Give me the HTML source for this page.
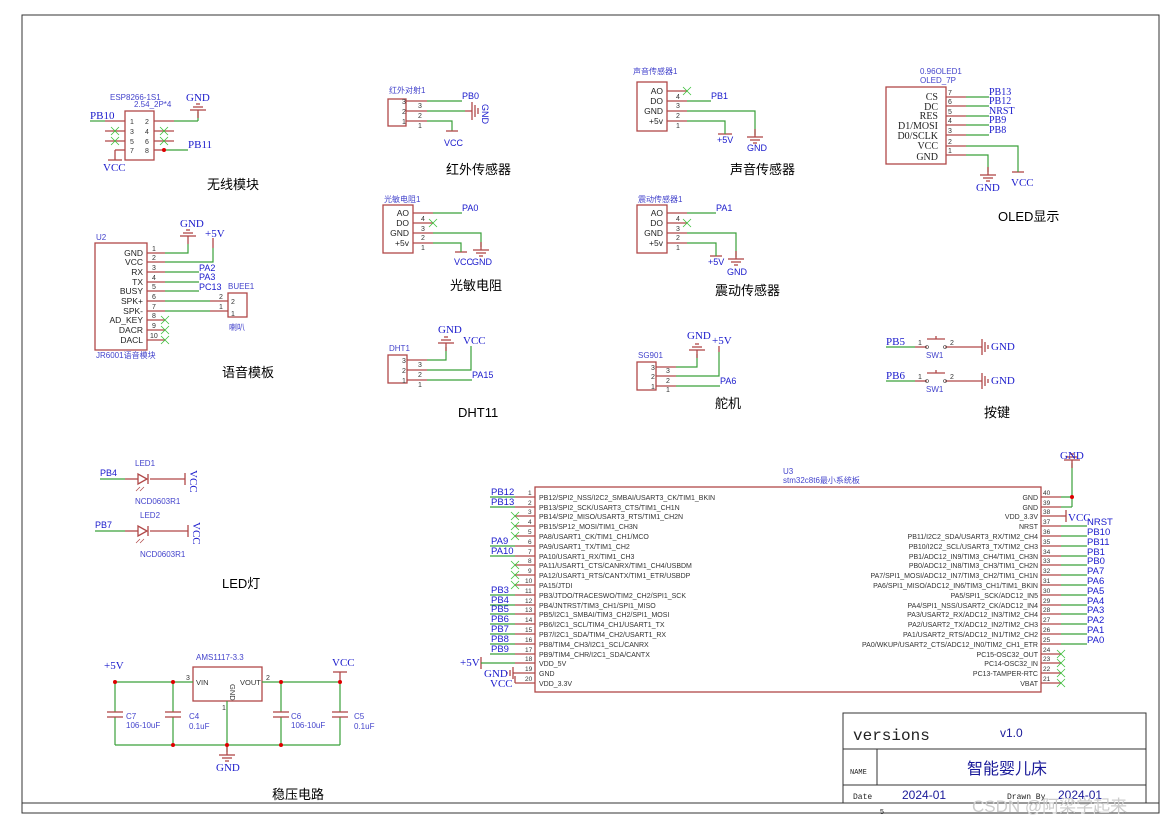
<!DOCTYPE html>
<html><head><meta charset="utf-8"><style>
html,body{margin:0;padding:0;background:#fff}
svg{display:block}
text{font-family:"Liberation Sans","Noto Sans CJK SC",sans-serif}
.p{font-size:7px;fill:#333}
.n{font-size:9px;fill:#1a1acc}
.s{font-family:"Liberation Serif","Noto Serif CJK SC",serif;font-size:11px;fill:#1a1acc}
.o{font-family:"Liberation Serif",serif;font-size:10px;fill:#222}
.c{font-size:8px;fill:#4444cc}
.t{font-size:13px;fill:#000;font-family:"Liberation Sans","Noto Sans CJK SC",sans-serif}
.r{stroke:#b04848;stroke-width:1.3;fill:none}
.g{stroke:#3aa03a;stroke-width:1.2;fill:none}
.x{stroke:#3ac03a;stroke-width:0.8}
</style></head><body>
<svg width="1170" height="825" viewBox="0 0 1170 825" xmlns="http://www.w3.org/2000/svg">
<defs>
<g id="gnd"><line x1="0" y1="-8" x2="0" y2="0" class="r"/><line x1="-8" y1="0" x2="8" y2="0" class="r"/><line x1="-5" y1="3" x2="5" y2="3" class="r"/><line x1="-2" y1="6" x2="2" y2="6" class="r"/></g>
<g id="gndu"><line x1="0" y1="8" x2="0" y2="0" class="r"/><line x1="-8" y1="0" x2="8" y2="0" class="r"/><line x1="-5" y1="-3" x2="5" y2="-3" class="r"/><line x1="-2" y1="-6" x2="2" y2="-6" class="r"/></g>
<g id="X"><line x1="-4" y1="-4" x2="4" y2="4" class="x"/><line x1="-4" y1="4" x2="4" y2="-4" class="x"/></g>
</defs>
<rect x="22" y="15" width="1137" height="798" fill="none" stroke="#333" stroke-width="1"/>

<!-- ESP8266 -->
<text class="c" x="110" y="100">ESP8266-1S1</text><text class="c" x="134" y="107">2.54_2P*4</text>
<rect x="125" y="111" width="29" height="49" class="r"/>
<g class="r"><line x1="105" y1="121" x2="125" y2="121"/><line x1="105" y1="131" x2="125" y2="131"/><line x1="105" y1="141" x2="125" y2="141"/><line x1="115" y1="150" x2="125" y2="150"/><line x1="154" y1="121" x2="174" y2="121"/><line x1="154" y1="131" x2="174" y2="131"/><line x1="154" y1="141" x2="174" y2="141"/><line x1="154" y1="150" x2="164" y2="150"/><line x1="115" y1="150" x2="115" y2="160"/><line x1="108" y1="160" x2="122" y2="160"/></g>
<g class="p"><text x="130" y="124">1</text><text x="130" y="134">3</text><text x="130" y="144">5</text><text x="130" y="153">7</text><text x="145" y="124">2</text><text x="145" y="134">4</text><text x="145" y="144">6</text><text x="145" y="153">8</text></g>
<g class="g"><line x1="90" y1="121" x2="105" y2="121"/><line x1="174" y1="121" x2="198" y2="121"/><line x1="198" y1="121" x2="198" y2="112"/><line x1="164" y1="150" x2="188" y2="150"/></g>
<use href="#gndu" x="198" y="110"/>
<circle cx="164" cy="150" r="2" fill="#d00"/>
<use href="#X" x="115" y="131"/><use href="#X" x="115" y="141"/><use href="#X" x="164" y="131"/><use href="#X" x="164" y="141"/>
<text class="s" x="90" y="119">PB10</text><text class="s" x="186" y="101" font-size="12">GND</text><text class="s" x="188" y="148">PB11</text><text class="s" x="103" y="171" font-size="12">VCC</text>
<text class="t" x="207" y="189">无线模块</text>

<!-- U2 -->
<text class="c" x="96" y="240">U2</text>
<rect x="95" y="243" width="52" height="107" class="r"/>
<g text-anchor="end" style="font-size:8.5px;fill:#222">
<text x="143" y="256">GND</text><text x="143" y="265">VCC</text><text x="143" y="275">RX</text><text x="143" y="285">TX</text><text x="143" y="294">BUSY</text><text x="143" y="304">SPK+</text><text x="143" y="314">SPK-</text><text x="143" y="323">AD_KEY</text><text x="143" y="333">DACR</text><text x="143" y="343">DACL</text></g>
<g class="r"><line x1="147" y1="253" x2="165" y2="253"/><line x1="147" y1="262" x2="165" y2="262"/><line x1="147" y1="272" x2="165" y2="272"/><line x1="147" y1="282" x2="165" y2="282"/><line x1="147" y1="291" x2="165" y2="291"/><line x1="147" y1="301" x2="165" y2="301"/><line x1="147" y1="311" x2="165" y2="311"/><line x1="147" y1="320" x2="165" y2="320"/><line x1="147" y1="330" x2="165" y2="330"/><line x1="147" y1="340" x2="165" y2="340"/><line x1="210" y1="301" x2="228" y2="301"/><line x1="210" y1="311" x2="228" y2="311"/><line x1="213" y1="238" x2="213" y2="248"/></g>
<g class="p"><text x="152" y="251">1</text><text x="152" y="260">2</text><text x="152" y="270">3</text><text x="152" y="280">4</text><text x="152" y="289">5</text><text x="152" y="299">6</text><text x="152" y="309">7</text><text x="152" y="318">8</text><text x="152" y="328">9</text><text x="150" y="338">10</text><text x="219" y="299">2</text><text x="219" y="309">1</text><text x="231" y="304">2</text><text x="231" y="316">1</text></g>
<g class="g"><polyline points="165,253 188,253 188,244"/><polyline points="165,262 213,262 213,248"/><line x1="165" y1="272" x2="199" y2="272"/><line x1="165" y1="282" x2="199" y2="282"/><line x1="165" y1="291" x2="199" y2="291"/><line x1="165" y1="301" x2="210" y2="301"/><line x1="165" y1="311" x2="210" y2="311"/></g>
<use href="#gndu" x="188" y="236"/>
<use href="#X" x="165" y="320"/><use href="#X" x="165" y="330"/><use href="#X" x="165" y="340"/>
<rect x="228" y="293" width="19" height="24" class="r"/>
<text class="c" x="228" y="289" font-size="9">BUEE1</text><text class="c" x="229" y="330">喇叭</text>
<text class="n" x="199" y="271">PA2</text><text class="n" x="199" y="280">PA3</text><text class="n" x="199" y="290">PC13</text>
<text class="s" x="180" y="227">GND</text><text class="s" x="205" y="237">+5V</text>
<text class="c" x="96" y="358">JR6001语音模块</text>
<text class="t" x="222" y="377">语音模板</text>

<!-- Infrared -->
<text class="c" x="389" y="93">红外对射1</text>
<rect x="388" y="99" width="18" height="27" class="r"/>
<g class="r"><line x1="406" y1="101" x2="427" y2="101"/><line x1="406" y1="111" x2="427" y2="111"/><line x1="406" y1="121" x2="427" y2="121"/></g>
<g class="p"><text x="402" y="104">3</text><text x="402" y="114">2</text><text x="402" y="124">1</text><text x="418" y="108">3</text><text x="418" y="118">2</text><text x="418" y="128">1</text></g>
<g class="g"><line x1="427" y1="101" x2="462" y2="101"/><line x1="427" y1="111" x2="465" y2="111"/><polyline points="427,121 452,121 452,131"/></g>
<g class="r"><line x1="465" y1="111" x2="472" y2="111"/><line x1="472" y1="102" x2="472" y2="120"/><line x1="475" y1="105" x2="475" y2="117"/><line x1="478" y1="108" x2="478" y2="114"/><line x1="446" y1="131" x2="458" y2="131"/></g>
<text class="n" x="462" y="99">PB0</text><text class="n" x="0" y="0" transform="translate(482,104) rotate(90)">GND</text><text class="n" x="444" y="146">VCC</text>
<text class="t" x="446" y="174">红外传感器</text>

<!-- Sound -->
<text class="c" x="633" y="74">声音传感器1</text>
<rect x="637" y="82" width="30" height="49" class="r"/>
<g style="font-size:8.5px;fill:#222" text-anchor="end"><text x="663" y="94">AO</text><text x="663" y="104">DO</text><text x="663" y="114">GND</text><text x="663" y="124">+5v</text></g>
<g class="r"><line x1="667" y1="91" x2="687" y2="91"/><line x1="667" y1="101" x2="687" y2="101"/><line x1="667" y1="111" x2="687" y2="111"/><line x1="667" y1="121" x2="687" y2="121"/><line x1="718" y1="134" x2="732" y2="134"/></g>
<g class="p"><text x="676" y="99">4</text><text x="676" y="108">3</text><text x="676" y="118">2</text><text x="676" y="128">1</text></g>
<use href="#X" x="687" y="91"/>
<g class="g"><line x1="687" y1="101" x2="711" y2="101"/><polyline points="687,111 755,111 755,135"/><polyline points="687,121 725,121 725,134"/></g>
<use href="#gnd" x="755" y="137"/>
<text class="n" x="711" y="99">PB1</text><text class="n" x="717" y="143">+5V</text><text class="n" x="747" y="151">GND</text>
<text class="t" x="730" y="174">声音传感器</text>

<!-- Photoresistor -->
<text class="c" x="384" y="202">光敏电阻1</text>
<rect x="383" y="205" width="30" height="48" class="r"/>
<g style="font-size:8.5px;fill:#222" text-anchor="end"><text x="409" y="216">AO</text><text x="409" y="226">DO</text><text x="409" y="236">GND</text><text x="409" y="246">+5v</text></g>
<g class="r"><line x1="413" y1="213" x2="433" y2="213"/><line x1="413" y1="223" x2="433" y2="223"/><line x1="413" y1="233" x2="433" y2="233"/><line x1="413" y1="243" x2="433" y2="243"/><line x1="455" y1="252" x2="467" y2="252"/></g>
<g class="p"><text x="421" y="221">4</text><text x="421" y="231">3</text><text x="421" y="240">2</text><text x="421" y="250">1</text></g>
<use href="#X" x="433" y="223"/>
<g class="g"><line x1="433" y1="213" x2="462" y2="213"/><polyline points="433,233 481,233 481,247"/><polyline points="433,243 461,243 461,252"/></g>
<use href="#gnd" x="481" y="250"/>
<text class="n" x="462" y="211">PA0</text><text class="n" x="454" y="265">VCC</text><text class="n" x="472" y="265">GND</text>
<text class="t" x="450" y="290">光敏电阻</text>

<!-- Vibration -->
<text class="c" x="638" y="202">震动传感器1</text>
<rect x="637" y="205" width="30" height="48" class="r"/>
<g style="font-size:8.5px;fill:#222" text-anchor="end"><text x="663" y="216">AO</text><text x="663" y="226">DO</text><text x="663" y="236">GND</text><text x="663" y="246">+5v</text></g>
<g class="r"><line x1="667" y1="213" x2="687" y2="213"/><line x1="667" y1="223" x2="687" y2="223"/><line x1="667" y1="233" x2="687" y2="233"/><line x1="667" y1="243" x2="687" y2="243"/><line x1="710" y1="256" x2="722" y2="256"/></g>
<g class="p"><text x="676" y="221">4</text><text x="676" y="231">3</text><text x="676" y="240">2</text><text x="676" y="250">1</text></g>
<use href="#X" x="687" y="223"/>
<g class="g"><line x1="687" y1="213" x2="716" y2="213"/><polyline points="687,233 736,233 736,257"/><polyline points="687,243 716,243 716,256"/></g>
<use href="#gnd" x="736" y="259"/>
<text class="n" x="716" y="211">PA1</text><text class="n" x="708" y="265">+5V</text><text class="n" x="727" y="275">GND</text>
<text class="t" x="715" y="295">震动传感器</text>

<!-- OLED -->
<text class="c" x="920" y="74">0.96OLED1</text><text class="c" x="920" y="83">OLED_7P</text>
<rect x="886" y="87" width="60" height="77" class="r"/>
<g text-anchor="end"><text class="o" x="938" y="100">CS</text><text class="o" x="938" y="110">DC</text><text class="o" x="938" y="119">RES</text><text class="o" x="938" y="129">D1/MOSI</text><text class="o" x="938" y="139">D0/SCLK</text><text class="o" x="938" y="149">VCC</text><text class="o" x="938" y="160">GND</text></g>
<g class="r"><line x1="946" y1="97" x2="966" y2="97"/><line x1="946" y1="106" x2="966" y2="106"/><line x1="946" y1="116" x2="966" y2="116"/><line x1="946" y1="125" x2="966" y2="125"/><line x1="946" y1="135" x2="966" y2="135"/><line x1="946" y1="146" x2="966" y2="146"/><line x1="946" y1="155" x2="966" y2="155"/><line x1="1012" y1="172" x2="1024" y2="172"/></g>
<g class="p"><text x="948" y="95">7</text><text x="948" y="104">6</text><text x="948" y="114">5</text><text x="948" y="123">4</text><text x="948" y="133">3</text><text x="948" y="144">2</text><text x="948" y="153">1</text></g>
<g class="g"><line x1="966" y1="97" x2="989" y2="97"/><line x1="966" y1="106" x2="989" y2="106"/><line x1="966" y1="116" x2="989" y2="116"/><line x1="966" y1="125" x2="989" y2="125"/><line x1="966" y1="135" x2="989" y2="135"/><polyline points="966,146 1018,146 1018,172"/><polyline points="966,155 988,155 988,172"/></g>
<use href="#gnd" x="988" y="175"/>
<g><text class="s" x="989" y="95" style="font-size:10px">PB13</text><text class="s" x="989" y="104" style="font-size:10px">PB12</text><text class="s" x="989" y="114" style="font-size:10px">NRST</text><text class="s" x="989" y="123" style="font-size:10px">PB9</text><text class="s" x="989" y="133" style="font-size:10px">PB8</text></g>
<text class="s" x="976" y="191">GND</text><text class="s" x="1011" y="186">VCC</text>
<text class="t" x="998" y="221">OLED显示</text>

<!-- DHT11 -->
<text class="c" x="389" y="351">DHT1</text>
<rect x="388" y="355" width="19" height="28" class="r"/>
<g class="r"><line x1="407" y1="360" x2="427" y2="360"/><line x1="407" y1="370" x2="427" y2="370"/><line x1="407" y1="380" x2="427" y2="380"/></g>
<g class="p"><text x="402" y="363">3</text><text x="402" y="373">2</text><text x="402" y="383">1</text><text x="418" y="367">3</text><text x="418" y="377">2</text><text x="418" y="387">1</text></g>
<g class="g"><polyline points="427,360 446,360 446,347"/><polyline points="427,370 471,370 471,346"/><line x1="427" y1="380" x2="472" y2="380"/></g>
<use href="#gndu" x="446" y="343"/>
<text class="s" x="438" y="333">GND</text><text class="s" x="463" y="344">VCC</text><text class="n" x="472" y="378">PA15</text>
<text class="t" x="458" y="417">DHT11</text>

<!-- SG90 -->
<text class="c" x="638" y="358">SG901</text>
<rect x="637" y="362" width="19" height="28" class="r"/>
<g class="r"><line x1="656" y1="367" x2="676" y2="367"/><line x1="656" y1="376" x2="676" y2="376"/><line x1="656" y1="386" x2="676" y2="386"/><line x1="719" y1="346" x2="719" y2="352"/></g>
<g class="p"><text x="651" y="370">3</text><text x="651" y="379">2</text><text x="651" y="389">1</text><text x="666" y="373">3</text><text x="666" y="383">2</text><text x="666" y="392">1</text></g>
<g class="g"><polyline points="676,367 697,367 697,354"/><polyline points="676,376 719,376 719,352"/><line x1="676" y1="386" x2="720" y2="386"/></g>
<use href="#gndu" x="697" y="350"/>
<text class="s" x="687" y="339">GND</text><text class="s" x="712" y="344">+5V</text><text class="n" x="720" y="384">PA6</text>
<text class="t" x="715" y="408">舵机</text>

<!-- Buttons -->
<g class="g"><line x1="886" y1="347" x2="915" y2="347"/><line x1="886" y1="381" x2="915" y2="381"/></g>
<g class="r"><line x1="915" y1="347" x2="927" y2="347"/><line x1="945" y1="347" x2="982" y2="347"/><line x1="927" y1="339" x2="945" y2="339"/><line x1="936" y1="336" x2="936" y2="339"/><line x1="915" y1="381" x2="927" y2="381"/><line x1="945" y1="381" x2="982" y2="381"/><line x1="927" y1="373" x2="945" y2="373"/><line x1="936" y1="370" x2="936" y2="373"/>
<line x1="982" y1="339" x2="982" y2="355"/><line x1="985" y1="342" x2="985" y2="352"/><line x1="988" y1="345" x2="988" y2="349"/><line x1="982" y1="373" x2="982" y2="389"/><line x1="985" y1="376" x2="985" y2="386"/><line x1="988" y1="379" x2="988" y2="383"/></g>
<circle cx="927" cy="347" r="1.5" fill="none" stroke="#333" stroke-width="0.6"/><circle cx="945" cy="347" r="1.5" fill="none" stroke="#333" stroke-width="0.6"/><circle cx="927" cy="381" r="1.5" fill="none" stroke="#333" stroke-width="0.6"/><circle cx="945" cy="381" r="1.5" fill="none" stroke="#333" stroke-width="0.6"/>
<g class="p"><text x="918" y="345">1</text><text x="950" y="345">2</text><text x="918" y="379">1</text><text x="950" y="379">2</text></g>
<text class="s" x="886" y="345">PB5</text><text class="s" x="886" y="379">PB6</text>
<text class="c" x="926" y="358">SW1</text><text class="c" x="926" y="392">SW1</text>
<text class="s" x="991" y="350">GND</text><text class="s" x="991" y="384">GND</text>
<text class="t" x="984" y="417">按键</text>

<!-- LEDs -->
<g class="g"><line x1="100" y1="479" x2="125" y2="479"/><line x1="95" y1="531" x2="125" y2="531"/></g>
<g class="r"><line x1="125" y1="479" x2="138" y2="479"/><line x1="150" y1="479" x2="185" y2="479"/><polygon points="138,474 138,484 147,479"/><line x1="148" y1="474" x2="148" y2="484"/><line x1="185" y1="473" x2="185" y2="485"/>
<line x1="125" y1="531" x2="138" y2="531"/><line x1="150" y1="531" x2="188" y2="531"/><polygon points="138,526 138,536 147,531"/><line x1="148" y1="526" x2="148" y2="536"/><line x1="188" y1="525" x2="188" y2="537"/></g>
<g stroke="#b04848" stroke-width="0.7"><line x1="140" y1="487" x2="136" y2="491"/><line x1="144" y1="487" x2="140" y2="491"/><line x1="140" y1="539" x2="136" y2="543"/><line x1="144" y1="539" x2="140" y2="543"/></g>
<text class="n" x="100" y="476">PB4</text><text class="n" x="95" y="528">PB7</text>
<text class="c" x="135" y="466">LED1</text><text class="c" x="135" y="504">NCD0603R1</text><text class="c" x="140" y="518">LED2</text><text class="c" x="140" y="557">NCD0603R1</text>
<text class="s" x="0" y="0" transform="translate(190,470) rotate(90)">VCC</text><text class="s" x="0" y="0" transform="translate(193,522) rotate(90)">VCC</text>
<text class="t" x="222" y="588">LED灯</text>

<!-- Power -->
<text class="c" x="196" y="660">AMS1117-3.3</text>
<rect x="193" y="667" width="69" height="34" class="r"/>
<g style="font-size:7.5px;fill:#333"><text x="196" y="685">VIN</text><text x="240" y="685">VOUT</text><text x="0" y="0" transform="translate(230,684) rotate(90)">GND</text></g>
<g class="p"><text x="186" y="680">3</text><text x="266" y="680">2</text><text x="222" y="710">1</text></g>
<g class="g"><line x1="115" y1="682" x2="193" y2="682"/><line x1="262" y1="682" x2="340" y2="682"/><line x1="115" y1="745" x2="340" y2="745"/><line x1="227" y1="701" x2="227" y2="752"/>
<line x1="115" y1="682" x2="115" y2="712"/><line x1="173" y1="682" x2="173" y2="712"/><line x1="281" y1="682" x2="281" y2="712"/><line x1="340" y1="682" x2="340" y2="712"/>
<line x1="115" y1="717" x2="115" y2="745"/><line x1="173" y1="717" x2="173" y2="745"/><line x1="281" y1="717" x2="281" y2="745"/><line x1="340" y1="717" x2="340" y2="745"/></g>
<g class="r"><line x1="107" y1="712" x2="123" y2="712"/><line x1="107" y1="717" x2="123" y2="717"/><line x1="165" y1="712" x2="181" y2="712"/><line x1="165" y1="717" x2="181" y2="717"/><line x1="273" y1="712" x2="289" y2="712"/><line x1="273" y1="717" x2="289" y2="717"/><line x1="332" y1="712" x2="348" y2="712"/><line x1="332" y1="717" x2="348" y2="717"/><line x1="333" y1="672" x2="347" y2="672"/><line x1="340" y1="672" x2="340" y2="682"/></g>
<use href="#gnd" x="227" y="755"/>
<g fill="#d00"><circle cx="115" cy="682" r="2"/><circle cx="173" cy="682" r="2"/><circle cx="281" cy="682" r="2"/><circle cx="340" cy="682" r="2"/><circle cx="173" cy="745" r="2"/><circle cx="227" cy="745" r="2"/><circle cx="281" cy="745" r="2"/></g>
<g><text class="c" x="126" y="719">C7</text><text class="c" x="126" y="728">106-10uF</text><text class="c" x="189" y="719">C4</text><text class="c" x="189" y="729">0.1uF</text><text class="c" x="291" y="719">C6</text><text class="c" x="291" y="728">106-10uF</text><text class="c" x="354" y="719">C5</text><text class="c" x="354" y="729">0.1uF</text></g>
<text class="s" x="104" y="669">+5V</text><text class="s" x="332" y="666">VCC</text><text class="s" x="216" y="771">GND</text>
<text class="t" x="272" y="799">稳压电路</text>

<!-- U3 -->
<text class="c" x="783" y="474">U3</text><text class="c" x="783" y="483">stm32c8t6最小系统板</text>
<rect x="535" y="487" width="506" height="205" class="r"/>
<g class="r">
<line x1="515" y1="497" x2="535" y2="497"/><line x1="515" y1="507" x2="535" y2="507"/><line x1="515" y1="516" x2="535" y2="516"/><line x1="515" y1="526" x2="535" y2="526"/><line x1="515" y1="536" x2="535" y2="536"/><line x1="515" y1="546" x2="535" y2="546"/><line x1="515" y1="556" x2="535" y2="556"/><line x1="515" y1="565" x2="535" y2="565"/><line x1="515" y1="575" x2="535" y2="575"/><line x1="515" y1="585" x2="535" y2="585"/><line x1="515" y1="595" x2="535" y2="595"/><line x1="515" y1="605" x2="535" y2="605"/><line x1="515" y1="614" x2="535" y2="614"/><line x1="515" y1="624" x2="535" y2="624"/><line x1="515" y1="634" x2="535" y2="634"/><line x1="515" y1="644" x2="535" y2="644"/><line x1="515" y1="654" x2="535" y2="654"/><line x1="515" y1="663" x2="535" y2="663"/><line x1="515" y1="673" x2="535" y2="673"/><line x1="515" y1="683" x2="535" y2="683"/>
<line x1="1041" y1="497" x2="1061" y2="497"/><line x1="1041" y1="507" x2="1061" y2="507"/><line x1="1041" y1="516" x2="1061" y2="516"/><line x1="1041" y1="526" x2="1061" y2="526"/><line x1="1041" y1="536" x2="1061" y2="536"/><line x1="1041" y1="546" x2="1061" y2="546"/><line x1="1041" y1="556" x2="1061" y2="556"/><line x1="1041" y1="565" x2="1061" y2="565"/><line x1="1041" y1="575" x2="1061" y2="575"/><line x1="1041" y1="585" x2="1061" y2="585"/><line x1="1041" y1="595" x2="1061" y2="595"/><line x1="1041" y1="605" x2="1061" y2="605"/><line x1="1041" y1="614" x2="1061" y2="614"/><line x1="1041" y1="624" x2="1061" y2="624"/><line x1="1041" y1="634" x2="1061" y2="634"/><line x1="1041" y1="644" x2="1061" y2="644"/><line x1="1041" y1="654" x2="1061" y2="654"/><line x1="1041" y1="663" x2="1061" y2="663"/><line x1="1041" y1="673" x2="1061" y2="673"/><line x1="1041" y1="683" x2="1061" y2="683"/>
<line x1="481" y1="657" x2="481" y2="669"/><line x1="513" y1="667" x2="513" y2="679"/><line x1="510" y1="670" x2="510" y2="676"/><line x1="507" y1="672" x2="507" y2="674"/><line x1="515" y1="673" x2="513" y2="673"/><line x1="515" y1="683" x2="515" y2="676"/><line x1="1061" y1="516" x2="1066" y2="516"/><line x1="1066" y1="510" x2="1066" y2="522"/>
</g>
<g class="p" style="font-size:6.5px">
<text x="528" y="495">1</text><text x="528" y="505">2</text><text x="528" y="514">3</text><text x="528" y="524">4</text><text x="528" y="534">5</text><text x="528" y="544">6</text><text x="528" y="554">7</text><text x="528" y="563">8</text><text x="528" y="573">9</text><text x="525" y="583">10</text><text x="525" y="593">11</text><text x="525" y="603">12</text><text x="525" y="612">13</text><text x="525" y="622">14</text><text x="525" y="632">15</text><text x="525" y="642">16</text><text x="525" y="652">17</text><text x="525" y="661">18</text><text x="525" y="671">19</text><text x="525" y="681">20</text>
<text x="1043" y="495">40</text><text x="1043" y="505">39</text><text x="1043" y="514">38</text><text x="1043" y="524">37</text><text x="1043" y="534">36</text><text x="1043" y="544">35</text><text x="1043" y="554">34</text><text x="1043" y="563">33</text><text x="1043" y="573">32</text><text x="1043" y="583">31</text><text x="1043" y="593">30</text><text x="1043" y="603">29</text><text x="1043" y="612">28</text><text x="1043" y="622">27</text><text x="1043" y="632">26</text><text x="1043" y="642">25</text><text x="1043" y="652">24</text><text x="1043" y="661">23</text><text x="1043" y="671">22</text><text x="1043" y="681">21</text></g>
<g style="font-size:7px;fill:#333">
<text x="539" y="500">PB12/SPI2_NSS/I2C2_SMBAI/USART3_CK/TIM1_BKIN</text><text x="539" y="510">PB13/SPI2_SCK/USART3_CTS/TIM1_CH1N</text><text x="539" y="519">PB14/SPI2_MISO/USART3_RTS/TIM1_CH2N</text><text x="539" y="529">PB15/SP12_MOSI/TIM1_CH3N</text><text x="539" y="539">PA8/USART1_CK/TIM1_CH1/MCO</text><text x="539" y="549">PA9/USART1_TX/TIM1_CH2</text><text x="539" y="559">PA10/USART1_RX/TIM1_CH3</text><text x="539" y="568">PA11/USART1_CTS/CANRX/TIM1_CH4/USBDM</text><text x="539" y="578">PA12/USART1_RTS/CANTX/TIM1_ETR/USBDP</text><text x="539" y="588">PA15/JTDI</text><text x="539" y="598">PB3/JTDO/TRACESWO/TIM2_CH2/SPI1_SCK</text><text x="539" y="608">PB4/JNTRST/TIM3_CH1/SPI1_MISO</text><text x="539" y="617">PB5/I2C1_SMBAI/TIM3_CH2/SPI1_MOSI</text><text x="539" y="627">PB6/I2C1_SCL/TIM4_CH1/USART1_TX</text><text x="539" y="637">PB7/I2C1_SDA/TIM4_CH2/USART1_RX</text><text x="539" y="647">PB8/TIM4_CH3/I2C1_SCL/CANRX</text><text x="539" y="657">PB9/TIM4_CHR/I2C1_SDA/CANTX</text><text x="539" y="666">VDD_5V</text><text x="539" y="676">GND</text><text x="539" y="686">VDD_3.3V</text>
</g>
<g style="font-size:7px;fill:#333" text-anchor="end">
<text x="1038" y="500">GND</text><text x="1038" y="510">GND</text><text x="1038" y="519">VDD_3.3V</text><text x="1038" y="529">NRST</text><text x="1038" y="539">PB11/I2C2_SDA/USART3_RX/TIM2_CH4</text><text x="1038" y="549">PB10/I2C2_SCL/USART3_TX/TIM2_CH3</text><text x="1038" y="559">PB1/ADC12_IN9/TIM3_CH4/TIM1_CH3N</text><text x="1038" y="568">PB0/ADC12_IN8/TIM3_CH3/TIM1_CH2N</text><text x="1038" y="578">PA7/SPI1_MOSI/ADC12_IN7/TIM3_CH2/TIM1_CH1N</text><text x="1038" y="588">PA6/SPI1_MISO/ADC12_IN6/TIM3_CH1/TIM1_BKIN</text><text x="1038" y="598">PA5/SPI1_SCK/ADC12_IN5</text><text x="1038" y="608">PA4/SPI1_NSS/USART2_CK/ADC12_IN4</text><text x="1038" y="617">PA3/USART2_RX/ADC12_IN3/TIM2_CH4</text><text x="1038" y="627">PA2/USART2_TX/ADC12_IN2/TIM2_CH3</text><text x="1038" y="637">PA1/USART2_RTS/ADC12_IN1/TIM2_CH2</text><text x="1038" y="647">PA0/WKUP/USART2_CTS/ADC12_IN0/TIM2_CH1_ETR</text><text x="1038" y="657">PC15-OSC32_OUT</text><text x="1038" y="666">PC14-OSC32_IN</text><text x="1038" y="676">PC13-TAMPER-RTC</text><text x="1038" y="686">VBAT</text>
</g>
<g class="g">
<line x1="490" y1="497" x2="515" y2="497"/><line x1="490" y1="507" x2="515" y2="507"/><line x1="490" y1="546" x2="515" y2="546"/><line x1="490" y1="556" x2="515" y2="556"/>
<line x1="490" y1="595" x2="515" y2="595"/><line x1="490" y1="605" x2="515" y2="605"/><line x1="490" y1="614" x2="515" y2="614"/><line x1="490" y1="624" x2="515" y2="624"/><line x1="490" y1="634" x2="515" y2="634"/><line x1="490" y1="644" x2="515" y2="644"/><line x1="490" y1="654" x2="515" y2="654"/><line x1="481" y1="663" x2="515" y2="663"/>
<polyline points="1061,497 1072,497 1072,463"/><line x1="1061" y1="507" x2="1072" y2="507"/><line x1="1072" y1="497" x2="1072" y2="507"/>
<line x1="1061" y1="526" x2="1087" y2="526"/><line x1="1061" y1="536" x2="1087" y2="536"/><line x1="1061" y1="546" x2="1087" y2="546"/><line x1="1061" y1="556" x2="1087" y2="556"/><line x1="1061" y1="565" x2="1087" y2="565"/><line x1="1061" y1="575" x2="1087" y2="575"/><line x1="1061" y1="585" x2="1087" y2="585"/><line x1="1061" y1="595" x2="1087" y2="595"/><line x1="1061" y1="605" x2="1087" y2="605"/><line x1="1061" y1="614" x2="1087" y2="614"/><line x1="1061" y1="624" x2="1087" y2="624"/><line x1="1061" y1="634" x2="1087" y2="634"/><line x1="1061" y1="644" x2="1087" y2="644"/></g>
<use href="#gndu" x="1072" y="460"/>
<circle cx="1072" cy="497" r="2" fill="#d00"/>
<use href="#X" x="515" y="516"/><use href="#X" x="515" y="526"/><use href="#X" x="515" y="536"/><use href="#X" x="515" y="565"/><use href="#X" x="515" y="575"/><use href="#X" x="515" y="585"/>
<use href="#X" x="1061" y="654"/><use href="#X" x="1061" y="663"/><use href="#X" x="1061" y="673"/><use href="#X" x="1061" y="683"/>
<g class="n" style="font-size:9.5px"><text x="491" y="495">PB12</text><text x="491" y="505">PB13</text><text x="491" y="544">PA9</text><text x="491" y="554">PA10</text><text x="491" y="593">PB3</text><text x="491" y="603">PB4</text><text x="491" y="612">PB5</text><text x="491" y="622">PB6</text><text x="491" y="632">PB7</text><text x="491" y="642">PB8</text><text x="491" y="652">PB9</text>
<text x="1087" y="525">NRST</text><text x="1087" y="535">PB10</text><text x="1087" y="545">PB11</text><text x="1087" y="555">PB1</text><text x="1087" y="564">PB0</text><text x="1087" y="574">PA7</text><text x="1087" y="584">PA6</text><text x="1087" y="594">PA5</text><text x="1087" y="604">PA4</text><text x="1087" y="613">PA3</text><text x="1087" y="623">PA2</text><text x="1087" y="633">PA1</text><text x="1087" y="643">PA0</text></g>
<text class="s" x="1060" y="459">GND</text><text class="s" x="1068" y="521">VCC</text>
<text class="s" x="460" y="666">+5V</text><text class="s" x="484" y="677">GND</text><text class="s" x="490" y="687">VCC</text>

<!-- Title block -->
<g fill="none" stroke="#333" stroke-width="1"><rect x="843" y="713" width="303" height="90"/><line x1="843" y1="749" x2="1146" y2="749"/><line x1="843" y1="785" x2="1146" y2="785"/><line x1="877" y1="749" x2="877" y2="785"/><line x1="22" y1="803" x2="1159" y2="803"/></g>
<text x="853" y="740" style="font-family:'Liberation Mono',monospace;font-size:16px;fill:#222">versions</text>
<text x="1000" y="737" style="font-size:12px;fill:#1a1a99">v1.0</text>
<text x="850" y="774" style="font-family:'Liberation Mono',monospace;font-size:7px;fill:#222">NAME</text>
<text x="967" y="774" style="font-size:16px;fill:#1a1a99">智能婴儿床</text>
<text x="853" y="799" style="font-family:'Liberation Mono',monospace;font-size:8px;fill:#222">Date</text>
<text x="902" y="799" style="font-size:12px;fill:#1a1a99">2024-01</text>
<text x="1007" y="799" style="font-family:'Liberation Mono',monospace;font-size:8px;fill:#222">Drawn By</text>
<text x="1058" y="799" style="font-size:12px;fill:#1a1a99">2024-01</text>
<text x="880" y="814" style="font-size:7px;fill:#222">5</text>
<text x="972" y="812" style="font-size:17px;fill:#ccc">CSDN @阿梁学起来</text>
</svg>
</body></html>
